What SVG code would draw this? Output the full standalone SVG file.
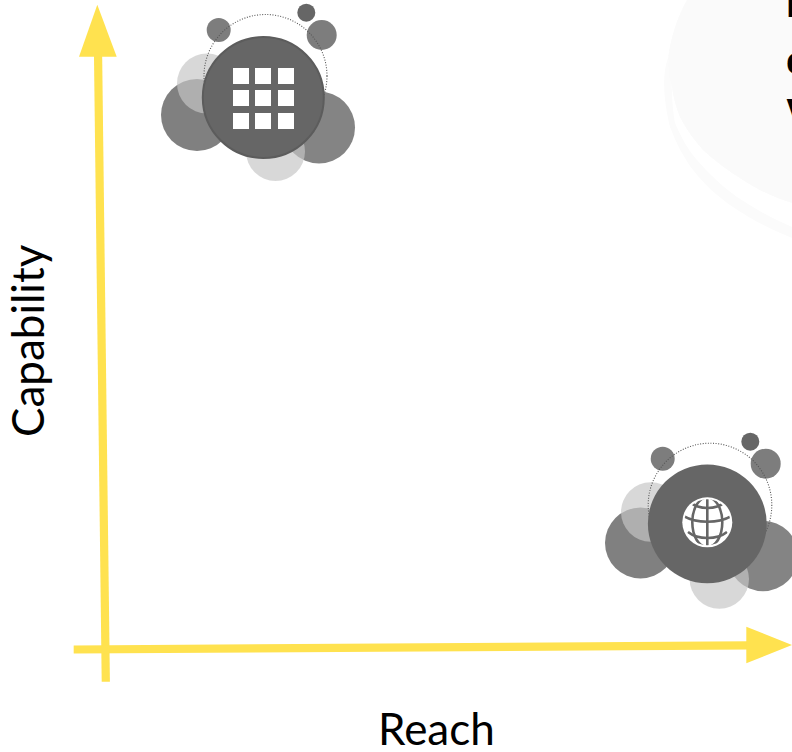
<svg xmlns="http://www.w3.org/2000/svg" width="792" height="752" viewBox="0 0 792 752">
<style>
.axis{stroke:#FFE24F;stroke-width:8.2;fill:none}
.head{fill:#FFE24F}
.label{font-family:"Lato","Open Sans",sans-serif;font-size:44px;fill:#000}
.cut{font-family:"Liberation Sans",Arial,sans-serif;font-weight:bold;font-size:38px;fill:#000}
.m{fill:#666}
.d{fill:#808080}
.s{fill:#7d7d7d}
.b{fill:#848484}
.l{fill:#c6c6c6;fill-opacity:.68}
.o{fill:none;stroke:#555;stroke-width:1.1;stroke-dasharray:1 1.6}
.sq{fill:#fff}
.g{fill:none;stroke:#666;stroke-width:2.6}
</style>
<defs><clipPath id="gc"><circle cx="707.3" cy="522.3" r="23"/></clipPath></defs>
<g id="backdrop">
<path d="M687 0C678 16 671 36 668 58C664 70 664 80 664.3 90C665 105 668 118 670 127C677 145 684 158 693 170C705 185 718 197 733 207C752 220 772 230 792 238L792 0Z" fill="#fbfbfb"/>
<path d="M671.7 85C672 100 673 112 675 123C681 137 688 150 697 160C708 173 722 186 737 197C755 209 773 219 792 227L792 203C774 197 758 190 743 180C728 171 715 161 703 150C694 140 686 129 680 117C676 107 673 96 671.7 85Z" fill="#fff"/>
<path d="M687 0C678 16 671 36 668.5 58C668 68 669 76 671.7 85C673 96 676 107 680 117C686 129 694 140 703 150C715 161 728 171 743 180C758 190 774 197 792 203L792 0Z" fill="#fafafa"/>
</g>
<g id="connectors">
<line class="axis" x1="105.8" y1="681.7" x2="98" y2="50"/>
<polygon class="head" points="97.3,4.7 116.7,56.7 79,56.7"/>
<line class="axis" x1="73.7" y1="649.5" x2="750" y2="645.3"/>
<polygon class="head" points="792,645 746.3,663.3 746.3,626.7"/>
</g>
<g id="app-node">
<circle class="d" cx="197" cy="115" r="36"/>
<circle class="b" cx="319" cy="127.5" r="36"/>
<circle class="l" cx="207" cy="83.5" r="30"/>
<circle class="l" cx="275.5" cy="151.5" r="29.5"/>
<circle class="s" cx="218.7" cy="30" r="12"/>
<circle class="m" cx="306.3" cy="12.7" r="9"/>
<circle class="s" cx="321.7" cy="35" r="15"/>
<circle class="o" cx="265.5" cy="76" r="61.5"/>
<circle class="m" cx="263.3" cy="97.5" r="60.5" stroke="#5c5c5c" stroke-width="2"/>
<rect class="sq" x="233" y="68" width="16" height="16"/>
<rect class="sq" x="255" y="68" width="16" height="16"/>
<rect class="sq" x="278" y="68" width="16" height="16"/>
<rect class="sq" x="233" y="90" width="16" height="16"/>
<rect class="sq" x="255" y="90" width="16" height="16"/>
<rect class="sq" x="278" y="90" width="16" height="16"/>
<rect class="sq" x="233" y="113" width="16" height="16"/>
<rect class="sq" x="255" y="113" width="16" height="16"/>
<rect class="sq" x="278" y="113" width="16" height="16"/>
</g>
<g id="web-node">
<circle class="d" cx="640.5" cy="543" r="35.5"/>
<circle class="b" cx="763" cy="556" r="35.2"/>
<circle class="l" cx="650.7" cy="512" r="29.7"/>
<circle class="l" cx="719.3" cy="579" r="29.7"/>
<circle class="s" cx="662.7" cy="458.7" r="12"/>
<circle class="m" cx="750.3" cy="441.7" r="9"/>
<circle class="s" cx="765.7" cy="463.7" r="15"/>
<circle class="o" cx="710" cy="505" r="61.8"/>
<circle class="m" cx="707.3" cy="523.8" r="59.4"/>
<circle cx="707.3" cy="522.3" r="25" fill="#fff"/>
<g clip-path="url(#gc)">
<line class="g" x1="707.3" y1="497" x2="707.3" y2="548"/>
<ellipse class="g" cx="707.3" cy="522.3" rx="15" ry="25"/>
<path class="g" d="M690 502C699 510 716 510 725 502"/>
<path class="g" d="M682 515C695 524 720 524 733 515"/>
<path class="g" d="M688 532C698 540 717 540 727 532"/>
</g>
</g>
<g id="labels">
<text class="label" x="378" y="745">Reach</text>
<text class="label" transform="translate(44 437) rotate(-90)">Capability</text>
<text class="cut" x="786" y="17">l</text>
<text class="cut" x="786" y="74">c</text>
<text class="cut" x="786.5" y="120">v</text>
</g>
</svg>
